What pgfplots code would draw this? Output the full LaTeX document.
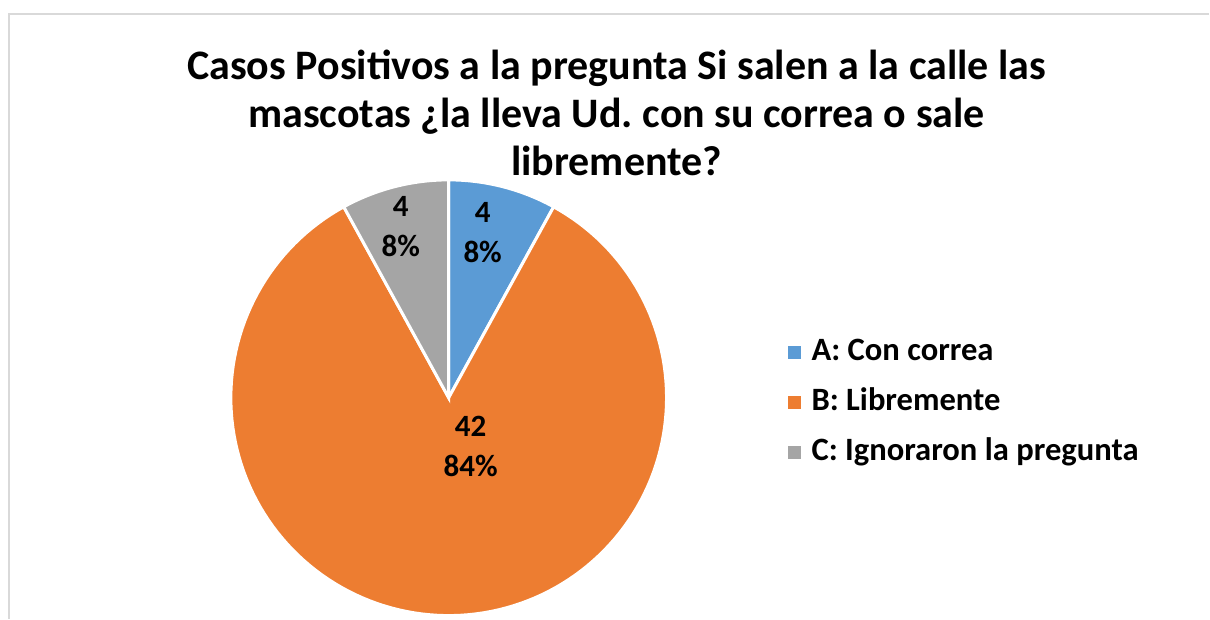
\documentclass[border=0pt]{standalone}
\usepackage{pgfplots}
\pgfplotsset{compat=1.18}
\usepackage{fontspec}
\setmainfont{Carlito}
\frenchspacing
\definecolor{pieA}{HTML}{5B9BD5}
\definecolor{pieB}{HTML}{ED7D31}
\definecolor{pieC}{HTML}{A5A5A5}
\definecolor{frame}{HTML}{D9D9D9}
\begin{document}
\begin{tikzpicture}
\pgfmathsetmacro{\va}{4}
\pgfmathsetmacro{\vb}{42}
\pgfmathsetmacro{\vc}{4}
\pgfmathsetmacro{\tot}{\va+\vb+\vc}
\pgfmathsetmacro{\aA}{90-360*\va/\tot}
\pgfmathsetmacro{\aB}{\aA-360*\vb/\tot}
\pgfmathsetmacro{\aC}{\aB-360*\vc/\tot}
\begin{axis}[
  width=605pt, height=309.5pt, scale only axis,
  xmin=0, xmax=1210, ymin=0, ymax=619,
  hide axis, clip=false,
  legend style={draw=none, fill=none, at={(0.651,0.349)}, anchor=west,
    font=\fontsize{16.3}{19}\selectfont\bfseries, inner sep=0pt,
    row sep=9pt, nodes={inner sep=0pt, text height=12pt, text depth=4pt},
    /tikz/every odd column/.append style={column sep=5.5pt}},
  legend cell align=left,
  legend image code/.code={\fill[#1,draw=none] (0pt,-3.25pt) rectangle (6.5pt,3.25pt);},
]
\path (axis cs:0,0) rectangle (axis cs:1210,619);
\draw[frame, line width=0.8pt] (axis cs:9,0) -- (axis cs:9,605) -- (axis cs:1210,605);
\addplot[fill=pieA, draw=white, line width=1.5pt, domain=\aA:90, samples=30]
  ({449+218*cos(x)},{221+218*sin(x)}) -- (axis cs:449,221) -- cycle;
\addlegendentry{A: Con correa}
\addplot[fill=pieB, draw=white, line width=1.5pt, domain=\aB:\aA, samples=150]
  ({449+218*cos(x)},{221+218*sin(x)}) -- (axis cs:449,221) -- cycle;
\addlegendentry{B: Libremente}
\addplot[fill=pieC, draw=white, line width=1.5pt, domain=\aC:\aB, samples=30]
  ({449+218*cos(x)},{221+218*sin(x)}) -- (axis cs:449,221) -- cycle;
\addlegendentry{C: Ignoraron la pregunta}
\node[font=\fontsize{15.5}{20}\selectfont\bfseries, align=center] at (axis cs:483,386) {4\\8\%};
\node[font=\fontsize{15.5}{20}\selectfont\bfseries, align=center] at (axis cs:401,392) {4\\8\%};
\node[font=\fontsize{15.5}{20}\selectfont\bfseries, align=center] at (axis cs:471,172) {42\\84\%};
\node[font=\fontsize{21}{24}\selectfont\bfseries, align=center] at (axis cs:617,506)
  {Casos Positivos a la pregunta Si salen a la calle las\\mascotas ¿la lleva Ud. con su correa o sale\\libremente?};
\end{axis}
\end{tikzpicture}
\end{document}
